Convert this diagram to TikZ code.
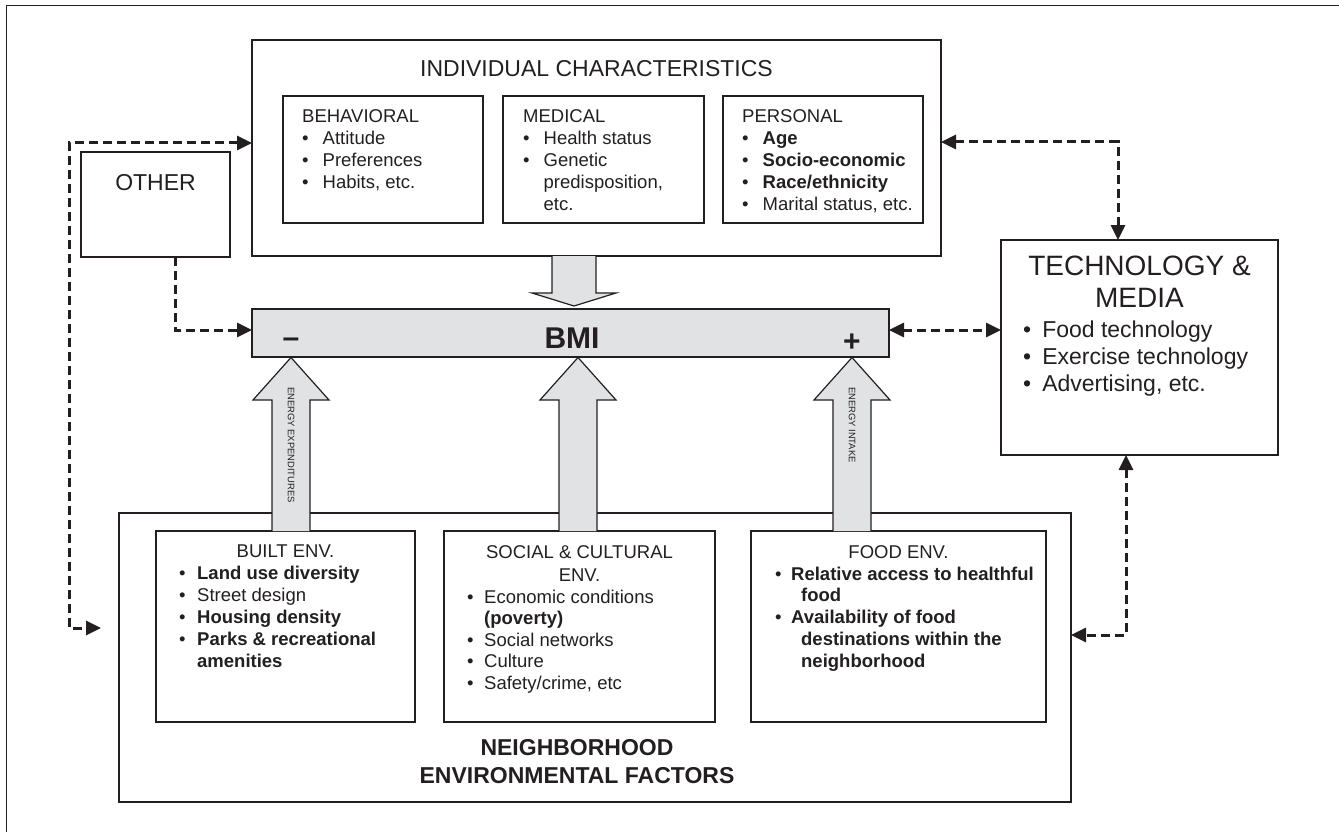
\documentclass[tikz,border=0pt]{standalone}
\usepackage{fontspec}
\setmainfont{Liberation Sans}
\usepackage{tikz}
\usetikzlibrary{arrows.meta}
\definecolor{ink}{HTML}{231F20}
\definecolor{barfill}{HTML}{E1E2E4}
\tikzstyle{box}=[draw=ink, line width=1.4pt, inner sep=0pt, outer sep=0pt, anchor=north west]
\tikzstyle{blockarrow}=[draw=ink, line width=1.2pt, fill=barfill, line join=miter]
\tikzstyle{link}=[draw=ink, line width=3pt, dash pattern=on 9pt off 5pt, >={Triangle[length=15pt,width=14pt]}]
\tikzstyle{small}=[font=\fontsize{18.5}{22}\selectfont, inner sep=0pt, text=ink]
\tikzstyle{big}=[font=\fontsize{23}{27}\selectfont, inner sep=0pt, text=ink]
\tikzstyle{energy}=[font=\fontsize{9.4}{10}\selectfont, inner sep=0pt, text=ink, rotate=-90, anchor=west]

\begin{document}
\begin{tikzpicture}[x=1pt, y=-1pt]
    \useasboundingbox (0,0) rectangle (1339,832);
    \draw[ink, line width=1.2pt] (6.5,832) -- (6.5,5.5) -- (1339,5.5);

    % boxes
    \node[box, minimum width=689, minimum height=216] (indiv) at (252,40) {};
    \node[box, minimum width=200, minimum height=127] (behav) at (283,96) {};
    \node[box, minimum width=201, minimum height=127] (medic) at (503,96) {};
    \node[box, minimum width=200, minimum height=127] (person) at (723,96) {};
    \node[box, minimum width=149, minimum height=105] (other) at (81,152) {};
    \node[box, minimum width=277, minimum height=215] (tech) at (1001,240) {};
    \node[box, fill=barfill, minimum width=637, minimum height=48] (bmi) at (252,309) {};
    \node[box, minimum width=952, minimum height=289] (neigh) at (119,513) {};
    \node[box, minimum width=259, minimum height=191] (built) at (156,531) {};
    \node[box, minimum width=271, minimum height=191] (social) at (444,531) {};
    \node[box, minimum width=295, minimum height=191] (food) at (751,531) {};

    % block arrows
    \draw[blockarrow] (552,256) -- (552,293) -- (532,293) -- (574,306) -- (616,293) -- (596,293) -- (596,256);
    \foreach \c in {291,578,852}
        \draw[blockarrow] (\c-19,531) -- (\c-19,400) -- (\c-38,400) -- (\c,357.5) -- (\c+38,400) -- (\c+19,400) -- (\c+19,531);
    \node[energy] (expend) at (291,387) {ENERGY EXPENDITURES};
    \node[energy] (intake) at (852,387) {ENERGY INTAKE};

    % texts
    \node[big, anchor=base] (indivtitle) at (596.5,77) {INDIVIDUAL CHARACTERISTICS};
    \node[small, anchor=base west] (behavlist) at (302,123) {\begin{tabular}[t]{@{}l@{\hspace{14pt}}l@{}}
        \multicolumn{2}{@{}l@{}}{BEHAVIORAL}\\
        \textbullet & Attitude\\
        \textbullet & Preferences\\
        \textbullet & Habits, etc.
    \end{tabular}};
    \node[small, anchor=base west] (mediclist) at (523,123) {\begin{tabular}[t]{@{}l@{\hspace{14pt}}l@{}}
        \multicolumn{2}{@{}l@{}}{MEDICAL}\\
        \textbullet & Health status\\
        \textbullet & Genetic\\
        & predisposition,\\
        & etc.
    \end{tabular}};
    \node[small, anchor=base west] (personlist) at (742,123) {\begin{tabular}[t]{@{}l@{\hspace{14pt}}l@{}}
        \multicolumn{2}{@{}l@{}}{PERSONAL}\\
        \textbullet & \textbf{Age}\\
        \textbullet & \textbf{Socio-economic}\\
        \textbullet & \textbf{Race/ethnicity}\\
        \textbullet & Marital status, etc.
    \end{tabular}};
    \node[big, anchor=base] (othertitle) at (155.5,190) {OTHER};

    \node[inner sep=0pt, text=ink, font=\bfseries\fontsize{30}{36}\selectfont, anchor=base] (bmititle) at (572,348) {BMI};
    \node[inner sep=0pt, text=ink, font=\bfseries\fontsize{30}{36}\selectfont, anchor=base] (minus) at (291,347) {–};
    \node[inner sep=0pt, text=ink, font=\bfseries\fontsize{30}{36}\selectfont, anchor=base] (plus) at (852,351) {+};

    \node[inner sep=0pt, text=ink, font=\fontsize{28}{32}\selectfont, anchor=base] (techtitle) at (1139.5,275) {\begin{tabular}[t]{@{}c@{}}TECHNOLOGY \&\\MEDIA\end{tabular}};
    \node[inner sep=0pt, text=ink, font=\fontsize{23}{27}\selectfont, anchor=base west] (techlist) at (1023,337) {\begin{tabular}[t]{@{}l@{\hspace{11pt}}l@{}}
        \textbullet & Food technology\\
        \textbullet & Exercise technology\\
        \textbullet & Advertising, etc.
    \end{tabular}};

    \node[small, anchor=base] (builttitle) at (285.5,557) {BUILT ENV.};
    \node[small, anchor=base west] (builtlist) at (179,579) {\begin{tabular}[t]{@{}l@{\hspace{11.5pt}}l@{}}
        \textbullet & \textbf{Land use diversity}\\
        \textbullet & Street design\\
        \textbullet & \textbf{Housing density}\\
        \textbullet & \textbf{Parks \& recreational}\\
        & \textbf{amenities}
    \end{tabular}};
    \node[small, anchor=base] (socialtitle) at (579.5,558) {\fontsize{18.5}{23}\selectfont\begin{tabular}[t]{@{}c@{}}SOCIAL \& CULTURAL\\ENV.\end{tabular}};
    \node[small, font=\fontsize{18.5}{21.5}\selectfont, anchor=base west] (sociallist) at (467,603) {\begin{tabular}[t]{@{}l@{\hspace{10.5pt}}l@{}}
        \textbullet & Economic conditions\\
        & \textbf{(poverty)}\\
        \textbullet & Social networks\\
        \textbullet & Culture\\
        \textbullet & Safety/crime, etc
    \end{tabular}};
    \node[small, anchor=base] (foodtitle) at (898.5,558) {FOOD ENV.};
    \node[small, font=\fontsize{18.5}{21.75}\selectfont, anchor=base west] (foodlist) at (775,580) {\begin{tabular}[t]{@{}l@{\hspace{9.5pt}}l@{}}
        \textbullet & \textbf{Relative access to healthful}\\
        & \hspace{10pt}\textbf{food}\\
        \textbullet & \textbf{Availability of food}\\
        & \hspace{10pt}\textbf{destinations within the}\\
        & \hspace{10pt}\textbf{neighborhood}
    \end{tabular}};
    \node[inner sep=0pt, text=ink, font=\bfseries\fontsize{23}{28}\selectfont, anchor=base] (neightitle) at (577,755) {\begin{tabular}[t]{@{}c@{}}NEIGHBORHOOD\\ENVIRONMENTAL FACTORS\end{tabular}};

    % dashed links
    \coordinate (loopTop) at (69,143);
    \coordinate (loopBot) at (69,628);
    \coordinate (loopEnd) at (101,628);
    \draw[link, <->] (indiv.west |- loopTop) -- (loopTop) -- (loopBot) -- (loopEnd);
    \coordinate (otherBend) at (175,330);
    \draw[link, ->] (otherBend |- other.south) -- (otherBend) -- (bmi.west |- otherBend);
    \coordinate (midLink) at (945,330);
    \draw[link, <->] (bmi.east |- midLink) -- (tech.west |- midLink);
    \coordinate (techBend) at (1118,142);
    \draw[link, <->] (indiv.east |- techBend) -- (techBend) -- (techBend |- tech.north);
    \coordinate (neighBend) at (1126,635);
    \draw[link, <->] (neighBend |- tech.south) -- (neighBend) -- (neigh.east |- neighBend);
\end{tikzpicture}
\end{document}
